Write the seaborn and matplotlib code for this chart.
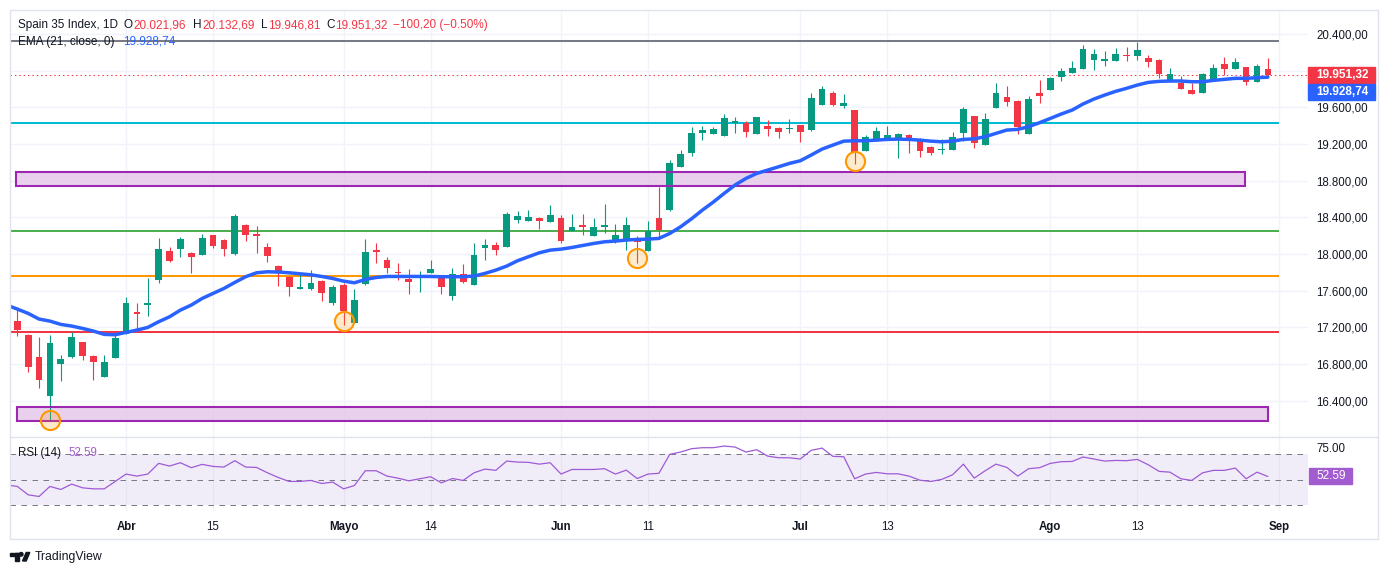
import numpy as np
import pandas as pd
import matplotlib
matplotlib.use("Agg")
import matplotlib.pyplot as plt
import seaborn as sns
from matplotlib.patches import Rectangle, Polygon, Circle
from matplotlib.lines import Line2D
from matplotlib.transforms import IdentityTransform

# ---------------- data ----------------
opens = [17268, 17115, 16879, 16454, 16803, 16879, 17039, 16886, 16657, 16865,
         17130, 17363, 17446, 17715, 18032, 18057, 18006, 17992, 18206, 18148,
         17999, 18312, 18217, 18075, 17864, 17752, 17614, 17614, 17704, 17468,
         17657, 17243, 17672, 18039, 17933, 17802, 17726, 17744, 17795, 17744,
         17541, 17781, 17664, 18068, 18097, 18079, 18370, 18362, 18392, 18352,
         18392, 18253, 18315, 18199, 18297, 18152, 18144, 18144, 18032, 18392,
         18479, 18951, 19104, 19322, 19311, 19286, 19424, 19424, 19311, 19395,
         19370, 19366, 19402, 19351, 19628, 19755, 19617, 19570, 19119, 19257,
         19242, 19242, 19293, 19242, 19162, 19133, 19133, 19322, 19504, 19189,
         19596, 19712, 19668, 19312, 19756, 19792, 19934, 19978, 20014, 20119,
         20105, 20105, 20170, 20163, 20138, 20116, 19879, 19861, 19788, 19759,
         19909, 20072, 20021, 20039, 19879, 20021.96]
highs = [17417, 17130, 17097, 17115, 16897, 17152, 17045, 16897, 16897, 17115,
         17530, 17461, 17737, 18177, 18072, 18184, 18017, 18217, 18210, 18166,
         18432, 18326, 18304, 18119, 17875, 17755, 17788, 17821, 17715, 17657,
         17686, 17617, 18159, 18123, 17966, 17901, 17832, 17813, 17933, 17770,
         17846, 17890, 18123, 18159, 18133, 18457, 18468, 18479, 18399, 18533,
         18421, 18435, 18435, 18388, 18544, 18330, 18402, 18195, 18359, 18733,
         19024, 19133, 19384, 19395, 19388, 19526, 19493, 19450, 19493, 19461,
         19388, 19468, 19406, 19751, 19831, 19777, 19744, 19570, 19297, 19388,
         19395, 19322, 19308, 19268, 19177, 19250, 19333, 19602, 19504, 19534,
         19868, 19832, 19679, 19723, 19898, 19934, 20032, 20105, 20279, 20236,
         20214, 20243, 20261, 20316, 20170, 20123, 20028, 19941, 19861, 19978,
         20072, 20152, 20134, 20039, 20072, 20132.69]
lows = [17108, 16715, 16541, 16181, 16617, 16870, 16843, 16625, 16657, 16865,
        17130, 17152, 17326, 17679, 17908, 17970, 17795, 17992, 18068, 17981,
        17988, 18144, 18014, 17915, 17654, 17544, 17614, 17606, 17490, 17446,
        17224, 17243, 17661, 17904, 17795, 17715, 17566, 17588, 17795, 17563,
        17497, 17679, 17664, 17933, 17988, 18075, 18333, 18362, 18268, 18352,
        18122, 18253, 18202, 18199, 18224, 18122, 18043, 17904, 18032, 18188,
        18468, 18951, 19068, 19242, 19311, 19286, 19315, 19279, 19304, 19290,
        19268, 19315, 19224, 19344, 19628, 19617, 19588, 18981, 19119, 19257,
        19242, 19042, 19097, 19061, 19079, 19086, 19133, 19235, 19159, 19185,
        19596, 19614, 19305, 19312, 19650, 19792, 19890, 19978, 20014, 20007,
        20050, 20105, 20105, 20116, 20043, 19923, 19879, 19803, 19748, 19759,
        19909, 19952, 20021, 19847, 19879, 19946.81]
closes = [17174, 16770, 16628, 17028, 16854, 17094, 16890, 16824, 16817, 17083,
          17464, 17350, 17461, 18053, 17926, 18163, 17963, 18173, 18090, 18057,
          18410, 18203, 18195, 17973, 17788, 17643, 17635, 17679, 17577, 17635,
          17381, 17497, 18021, 18021, 17850, 17795, 17697, 17766, 17835, 17643,
          17781, 17693, 17988, 18097, 18043, 18435, 18413, 18402, 18362, 18424,
          18141, 18293, 18290, 18293, 18319, 18206, 18315, 18130, 18253, 18261,
          18992, 19090, 19319, 19351, 19359, 19482, 19450, 19333, 19493, 19366,
          19333, 19373, 19333, 19701, 19799, 19624, 19646, 19097, 19271, 19337,
          19297, 19308, 19235, 19126, 19104, 19148, 19271, 19580, 19213, 19472,
          19756, 19661, 19389, 19690, 19727, 19916, 19996, 20028, 20236, 20181,
          20127, 20181, 20163, 20225, 20094, 19963, 19963, 19803, 19748, 19967,
          20028, 20021, 20094, 19872, 20050, 19951.32]

# indicator values from the day before the first visible candle onwards
ema21 = [17444, 17399, 17352, 17290, 17268, 17232, 17214, 17188, 17159, 17123, 17119,
         17145, 17170, 17199, 17261, 17315, 17388, 17443, 17515, 17570, 17624,
         17690, 17752, 17795, 17806, 17803, 17795, 17784, 17773, 17755, 17733,
         17704, 17686, 17722, 17744, 17755, 17755, 17755, 17755, 17755, 17752,
         17752, 17752, 17759, 17788, 17824, 17868, 17926, 17970, 18013, 18042,
         18053, 18071, 18093, 18115, 18133, 18141, 18152, 18159, 18162, 18170,
         18224, 18297, 18384, 18479, 18566, 18661, 18752, 18824, 18879, 18915,
         18951, 18988, 19017, 19079, 19144, 19188, 19231, 19235, 19235, 19242,
         19250, 19253, 19250, 19242, 19231, 19224, 19231, 19250, 19256, 19279,
         19316, 19352, 19359, 19389, 19432, 19479, 19527, 19570, 19636, 19690,
         19734, 19774, 19807, 19843, 19872, 19883, 19887, 19887, 19879, 19879,
         19894, 19905, 19916, 19916, 19923, 19928.74]
rsi14 = [46.0, 44.8, 38.2, 36.9, 44.8, 42.4, 46.6, 43.7, 42.9, 42.9, 48.7,
         54.5, 52.9, 54.5, 62.9, 60.8, 63.4, 59.5, 62.1, 60.5, 60.0,
         65.0, 60.0, 59.7, 55.5, 51.8, 48.7, 48.7, 49.5, 47.1, 48.2,
         42.9, 45.5, 57.1, 57.1, 52.9, 51.3, 49.2, 50.8, 52.4, 47.6,
         51.0, 49.5, 55.5, 58.4, 57.4, 64.7, 63.9, 63.7, 62.3, 63.4,
         54.5, 58.1, 58.1, 58.1, 58.7, 54.5, 57.6, 51.0, 54.5, 55.1,
         70.0, 71.8, 74.4, 75.2, 75.2, 76.5, 75.7, 71.8, 73.6, 68.6,
         67.3, 67.3, 66.3, 73.1, 74.9, 68.4, 68.1, 50.8, 54.5, 55.8,
         54.7, 54.7, 52.9, 49.7, 48.7, 50.3, 53.9, 62.3, 51.3, 57.1,
         62.3, 59.7, 52.9, 58.7, 59.5, 62.9, 64.2, 64.4, 67.9, 66.3,
         64.7, 65.2, 65.0, 66.0, 61.8, 56.6, 56.0, 50.8, 49.5, 55.5,
         57.4, 57.4, 59.2, 50.8, 56.0, 52.59]

# date labels (candle index where each label sits)
date_labels = ["Abr", "15", "Mayo", "14", "Jun", "11", "Jul", "13", "Ago", "13", "Sep"]
date_index = [10, 18, 30, 38, 50, 58, 72, 80, 95, 103, 116]
month_labels = ["Abr", "Mayo", "Jun", "Jul", "Ago", "Sep"]

# horizontal levels drawn on the chart
level_values = [20320, 19432, 18254, 17760, 17149]
level_colors = ["#787b86", "#00bcd4", "#4caf50", "#ff9800", "#f23645"]
level_end = 116

# purple zones (low, high, start index, end index)
zone_low = [16182, 18742]
zone_high = [16327, 18895]
zone_start = [-0.06, -0.12]
zone_end = [115.0, 112.9]

# orange circle markers
circle_index = [3, 30, 57, 77]
circle_price = [16189, 17269, 17956, 19015]

price_ticks = [16400, 16800, 17200, 17600, 18000, 18400, 18800, 19200, 19600, 20000, 20400]
last_close = 19951.32
last_ema = 19928.74
last_rsi = 52.59

# header legend pieces (label, value)
ohlc_letters = ["O", "H", "L", "C"]
ohlc_values = ["20.021,96", "20.132,69", "19.946,81", "19.951,32"]
change_text = "\u2212100,20 (\u22120.50%)"

# ---------------- figure ----------------
sns.set_theme(style="white")
plt.rcParams['font.family'] = ['Liberation Sans', 'DejaVu Sans']

W, H = 1388, 575
fig = plt.figure(figsize=(W / 100, H / 100), dpi=100, facecolor="white")
IT = IdentityTransform()
renderer = fig.canvas.get_renderer()


def fx(px):
    return px / W


def fy(py):
    return 1 - py / H


def ptext(px, py, s, **kw):
    kw.setdefault("va", "center")
    kw.setdefault("ha", "left")
    return fig.text(px, H - py, s, transform=IT, **kw)


def text_right(t):
    return t.get_window_extent(renderer).x1


X0, X1 = -0.717, 118.69
LEFT, RIGHT = 9.5, 1308
ax = fig.add_axes([fx(LEFT), fy(437), fx(RIGHT) - fx(LEFT), fy(9.5) - fy(437)])
axr = fig.add_axes([fx(LEFT), fy(511), fx(RIGHT) - fx(LEFT), fy(437) - fy(511)], sharex=ax)

TXT = "#131722"
UP, DN = "#089981", "#f23645"
GRID = "#f0f3fa"

df = pd.DataFrame({"o": opens, "h": highs, "l": lows, "c": closes})
df["i"] = np.arange(len(df))
df["col"] = np.where(df["c"] >= df["o"], UP, DN)

# zones
for lo, hi, s, e in zip(zone_low, zone_high, zone_start, zone_end):
    ax.add_patch(Rectangle((s, lo), e - s, hi - lo, facecolor="#e1bee7", alpha=0.7,
                           edgecolor="none", zorder=1))
    ax.add_patch(Rectangle((s, lo), e - s, hi - lo, facecolor="none",
                           edgecolor="#9c27b0", lw=1.5, zorder=4))

# levels
for v, c in zip(level_values, level_colors):
    ax.plot([X0, level_end], [v, v], color=c, lw=1.45, zorder=2, solid_capstyle="butt")

# candles
ax.vlines(df["i"], df["l"], df["h"], colors=df["col"], lw=0.8, zorder=3)
body = np.maximum((df["c"] - df["o"]).abs(), 9)
ax.bar(df["i"], body, bottom=np.minimum(df["o"], df["c"]), width=0.62,
       color=df["col"], linewidth=0, zorder=3)

# EMA
ind_idx = np.arange(-1, len(df))
sns.lineplot(x=ind_idx, y=ema21, ax=ax, color="#2962ff", linewidth=2.5,
             estimator=None, sort=False, legend=False, zorder=5)

# last price dotted line
ax.axhline(last_close, color=DN, lw=0.75, ls=(0, (1.4, 2.8)), zorder=2)

# circles
ax.scatter(circle_index, circle_price, s=190, facecolor=(1, 0.6, 0, 0.2),
           edgecolor="#ff9800", linewidth=1.5, zorder=6)

ax.set_xlim(X0, X1)
ax.set_ylim(16003.7, 20667)
ax.yaxis.tick_right()
ax.set_yticks(price_ticks)
ax.set_yticklabels([f"{v:,.2f}".replace(",", "X").replace(".", ",").replace("X", ".")
                    for v in price_ticks])
ax.tick_params(axis="y", length=0, pad=5.8, labelsize=8.3, colors=TXT)
ax.set_xticks(date_index)
ax.tick_params(axis="x", length=0, labelbottom=False)
ax.grid(True, color=GRID, lw=1)
ax.set_axisbelow(True)
for sp in ax.spines.values():
    sp.set_visible(False)
ax.set_xlabel("")
ax.set_ylabel("")

# ---------------- RSI pane ----------------
axr.axhspan(30, 70, color="#7e57c2", alpha=0.1, lw=0, zorder=1)
for lvl in (70, 50, 30):
    axr.axhline(lvl, color="#787b86", lw=0.72, ls=(0, (5.5, 5.5)), zorder=2)
sns.lineplot(x=ind_idx, y=rsi14, ax=axr, color="#9e5ad6", linewidth=0.9,
             estimator=None, sort=False, legend=False, zorder=4)
axr.set_ylim(25.5, 83.6)
axr.set_xlim(X0, X1)
axr.yaxis.tick_right()
axr.set_yticks([75])
axr.set_yticklabels(["75.00"])
axr.tick_params(axis="y", length=0, pad=5.8, labelsize=8.3, colors=TXT)
axr.set_xticks(date_index)
axr.set_xticklabels(date_labels)
axr.tick_params(axis="x", length=0, pad=7.5, labelsize=8.3, colors=TXT)
for t in axr.get_xticklabels():
    if t.get_text() in month_labels:
        t.set_fontweight("bold")
axr.grid(True, axis="x", color=GRID, lw=1)
axr.grid(False, axis="y")
axr.set_axisbelow(True)
for sp in axr.spines.values():
    sp.set_visible(False)
axr.set_xlabel("")
axr.set_ylabel("")

# ---------------- frame ----------------
FRAME = "#e0e3eb"
fig.add_artist(Rectangle((LEFT, H - 539), 1378 - LEFT, 539 - 9.5, transform=IT,
                         fill=False, edgecolor=FRAME, lw=1, zorder=1))
fig.add_artist(Line2D([LEFT, 1378], [H - 437, H - 437], transform=IT, color=FRAME, lw=1))

# ---------------- price labels ----------------
fig.add_artist(Rectangle((1308, H - 82.5), 67, 15.5, transform=IT, color=DN, zorder=5))
ptext(1316, 74.7, "19.951,32", color="white", fontsize=8.5, fontweight="bold", zorder=6)
fig.add_artist(Rectangle((1308, H - 100), 67, 16, transform=IT, color="#2962ff", zorder=5))
ptext(1316, 92, "19.928,74", color="white", fontsize=8.5, fontweight="bold", zorder=6)
fig.add_artist(Rectangle((1308.5, H - 484), 43, 16, transform=IT, color="#a35ccf", zorder=5))
ptext(1316.5, 476, f"{last_rsi:.2f}", color="white", fontsize=8.5, zorder=6)

# ---------------- header / legends ----------------
HF = 8.5
ptext(18, 25, "Spain 35 Index, 1D", color=TXT, fontsize=HF)
ohlc_starts = [124, 193, 261, 326]
for start, letter, val in zip(ohlc_starts, ohlc_letters, ohlc_values):
    t = ptext(start, 25, letter, color=TXT, fontsize=HF)
    ptext(text_right(t) + 0.5, 25, val, color=DN, fontsize=HF)
ptext(393, 25, change_text, color=DN, fontsize=HF)
t = ptext(18, 42, "EMA (21, close, 0)", color=TXT, fontsize=HF)
ptext(text_right(t) + 9, 42, f"{last_ema:,.2f}".replace(",", "X").replace(".", ",").replace("X", "."),
      color="#2962ff", fontsize=HF)

t = ptext(18, 453, "RSI (14)", color=TXT, fontsize=8.3)
ptext(text_right(t) + 7, 453, f"{last_rsi:.2f}", color="#a35ccf", fontsize=8.3)

# ---------------- TradingView logo ----------------
fig.add_artist(Rectangle((10, H - 555.5), 8.5, 3, transform=IT, color=TXT))
fig.add_artist(Rectangle((14.5, H - 561), 4, 8.5, transform=IT, color=TXT))
fig.add_artist(Circle((21.2, H - 554.3), 1.8, transform=IT, color=TXT))
fig.add_artist(Polygon([(22.5, H - 561), (26.2, H - 552.5), (29.8, H - 552.5), (26.2, H - 561)],
                       closed=True, transform=IT, color=TXT))
ptext(35, 557, "TradingView", color=TXT, fontsize=8.8)

fig.savefig("out.png", dpi=100, facecolor="white")
